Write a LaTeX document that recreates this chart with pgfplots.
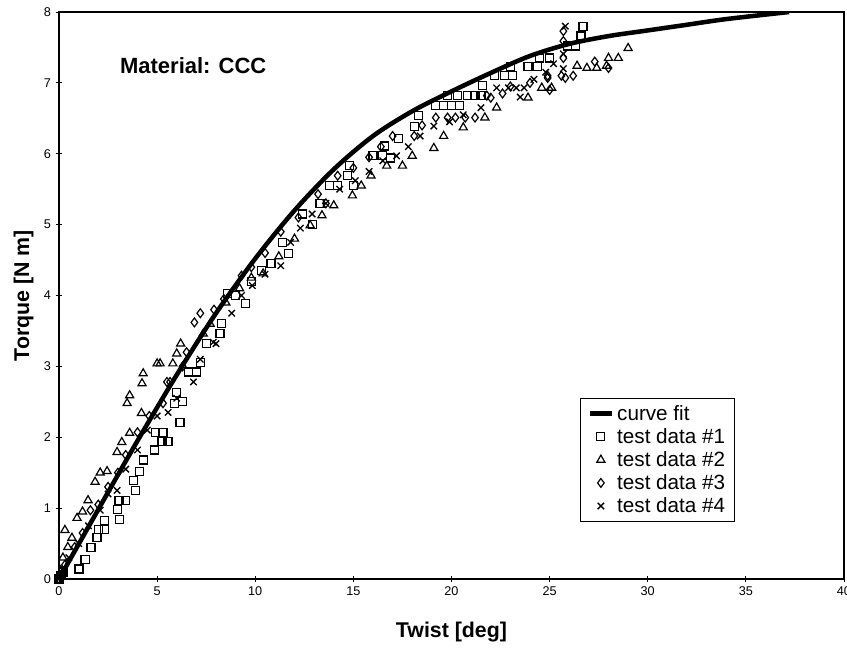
\documentclass[border=0pt]{standalone}
\usepackage{fontspec}
\setmainfont{Liberation Sans}
\usepackage{pgfplots}
\pgfplotsset{compat=1.18}
\begin{document}
\begin{tikzpicture}
\begin{axis}[
  at={(0,0)}, anchor=south west,
  scale only axis, width=588.75pt, height=425.25pt,
  xmin=0, xmax=40, ymin=0, ymax=8,
  xtick={0,5,...,40}, ytick={0,1,...,8},
  tick align=center, xtick pos=bottom, ytick pos=left,
  major tick length=5pt,
  tick style={black, line width=0.6pt},
  axis line style={line width=1pt},
  /pgf/number format/assume math mode=true,
  ticklabel style={font=\fontsize{9.5}{10}\selectfont},
  xlabel={Twist [deg]}, ylabel={Torque [N m]},
  label style={font=\fontsize{16}{18}\selectfont\bfseries},
  xlabel style={at={(axis description cs:0.5,-0.094)}, anchor=center},
  ylabel style={at={(axis description cs:-0.045,0.5)}, anchor=center},
  legend style={at={(rel axis cs:0.664,0.319)}, anchor=north west,
    font=\fontsize{15.5}{16}\selectfont, draw=black, line width=0.5pt,
    row sep=0.6pt, inner xsep=5pt, inner ysep=3pt, cells={anchor=west}},
  mark size=3pt,
]
\addplot[black, line width=3.4pt, smooth] coordinates {
(0,0) (2,0.98) (4,1.95) (6,2.88) (8,3.75) (10,4.52) (12,5.2) (14,5.78) (16,6.25)
(18,6.6) (20,6.88) (22,7.14) (24,7.38) (26,7.55) (28,7.66) (30,7.74) (32,7.82) (34,7.9) (37.2,8.0)};
\addlegendentry{curve fit}
\addplot[black, only marks, mark=square, mark options={line width=0.9pt}] coordinates {
(0,0) (0.1,0.05) (0.2,0.1) (1.02,0.14) (1.33,0.27) (1.63,0.44) (1.94,0.58) (2.3,0.70) (2.3,0.83) (2.0,0.7)
(3.1,0.84) (3.0,0.98) (3.06,1.11) (3.4,1.11) (3.9,1.25) (3.8,1.39) (4.1,1.52) (4.3,1.68) (4.85,1.82)
(5.25,1.94) (5.55,1.94) (4.9,2.07) (5.3,2.07) (6.17,2.21) (5.9,2.48) (6.3,2.5) (6.0,2.63) (6.6,2.92)
(7.0,2.92) (7.2,3.06) (7.5,3.32) (8.2,3.46) (8.3,3.6) (8.6,4.03) (9.5,3.89) (9.0,4.0) (9.8,4.2)
(10.3,4.35) (10.8,4.45) (11.4,4.75) (11.7,4.59) (12.4,5.15) (12.9,5.0) (13.3,5.3) (13.8,5.55) (14.2,5.55)
(15.0,5.55) (14.7,5.69) (14.8,5.83) (16.0,5.97) (16.5,5.97) (16.6,6.11) (16.9,5.94) (17.3,6.22)
(18.1,6.39) (18.3,6.54) (19.2,6.68) (19.6,6.68) (20.0,6.68) (20.4,6.68) (19.8,6.82) (20.3,6.82)
(20.8,6.82) (21.2,6.82) (21.5,6.82) (21.6,6.96) (22.2,7.1) (22.7,7.1) (23.1,7.1) (23.0,7.23)
(23.9,7.23) (24.4,7.23) (24.5,7.35) (25.0,7.35) (25.9,7.52) (26.3,7.52) (26.6,7.66) (26.7,7.79)};
\addlegendentry{test data \#1}
\addplot[black, only marks, mark=triangle, mark size=3.5pt, mark options={line width=0.9pt}] coordinates {
(0,0.05) (0.2,0.3) (0.3,0.69) (0.45,0.45) (0.66,0.58) (0.92,0.86) (1.2,0.95) (1.48,1.11)
(1.84,1.37) (2.1,1.5) (2.45,1.52) (2.96,1.79) (3.2,1.93) (3.6,2.06) (3.47,2.48) (3.6,2.59)
(4.2,2.34) (4.23,2.76) (4.29,2.9) (5.0,3.04) (5.15,3.04) (5.8,3.04) (6.0,3.18) (6.2,3.32)
(7.35,3.46) (7.7,3.6) (8.5,3.9) (9.2,4.1) (9.8,4.25) (10.4,4.31) (11.2,4.55) (12.0,4.8)
(12.8,4.99) (13.4,5.13) (14.0,5.27) (14.95,5.41) (15.4,5.55) (15.9,5.69) (16.7,5.83) (17.5,5.83)
(18.0,5.97) (19.1,6.08) (19.6,6.25) (20.6,6.37) (21.7,6.51) (22.3,6.65) (23.9,6.79) (24.6,6.93)
(25.1,6.93) (26.4,7.24) (26.9,7.21) (27.4,7.21) (28.0,7.35) (28.5,7.35) (29.0,7.49) (27.9,7.24)};
\addlegendentry{test data \#2}
\addplot[black, only marks, mark=diamond, mark size=3.3pt, mark options={line width=0.9pt}] coordinates {
(0,0) (0.3,0.2) (0.8,0.45) (1.2,0.65) (1.6,0.97) (2.0,1.05) (2.5,1.3) (3.0,1.5) (3.4,1.75)
(4.0,2.07) (4.6,2.3) (5.3,2.48) (5.66,2.78) (5.5,2.78) (6.3,3.0) (6.5,3.2) (6.9,3.62) (7.2,3.75)
(7.9,3.8) (8.4,3.95) (9.3,4.28) (9.8,4.4) (10.5,4.6) (11.3,4.9) (12.2,5.1) (13.2,5.43) (13.6,5.3)
(14.2,5.69) (15.0,5.8) (15.8,5.95) (16.4,6.1) (17.0,6.25) (18.1,6.25) (18.5,6.4) (19.2,6.51)
(19.8,6.51) (20.2,6.51) (20.7,6.51) (21.2,6.51) (21.8,6.82) (22.0,6.79) (22.6,6.85) (23.0,6.95)
(24.0,7.0) (24.9,7.1) (25.6,7.1) (26.2,7.1) (24.9,7.07) (25.8,7.07) (25.7,7.73) (25.7,7.59)
(25.7,7.35) (28.0,7.21) (27.3,7.3) (25.0,6.9)};
\addlegendentry{test data \#3}
\addplot[black, only marks, mark=x, mark size=3.4pt, mark options={line width=1pt}] coordinates {
(0,0) (0.2,0.15) (0.5,0.3) (1.0,0.5) (1.5,0.75) (2.1,0.97) (2.5,1.2) (2.96,1.25) (3.4,1.55)
(4.0,1.82) (4.5,2.1) (5.0,2.3) (5.56,2.35) (6.0,2.55) (6.85,2.78) (7.2,3.1) (7.86,3.34) (8.0,3.32)
(8.8,3.75) (9.3,4.0) (9.85,4.14) (10.5,4.3) (11.3,4.42) (11.8,4.75) (12.3,4.95) (12.9,5.15)
(13.6,5.3) (14.3,5.5) (15.1,5.62) (15.8,5.75) (16.5,5.9) (17.2,5.97) (17.8,6.1) (18.4,6.25)
(19.1,6.39) (19.9,6.45) (20.6,6.55) (21.5,6.65) (22.3,6.93) (22.9,6.93) (23.3,6.93) (23.7,6.93)
(24.2,7.05) (25.2,7.27) (25.7,7.41) (25.7,7.2) (25.8,7.8) (23.5,6.8) (24.8,7.15)};
\addlegendentry{test data \#4}
\node[font=\fontsize{16.5}{18}\selectfont\bfseries] at (rel axis cs:0.171,0.906) {Material: CCC};
\end{axis}
\pgfresetboundingbox
\path (-44.25pt,-51.75pt) rectangle (591pt,434.25pt);
\end{tikzpicture}
\end{document}
